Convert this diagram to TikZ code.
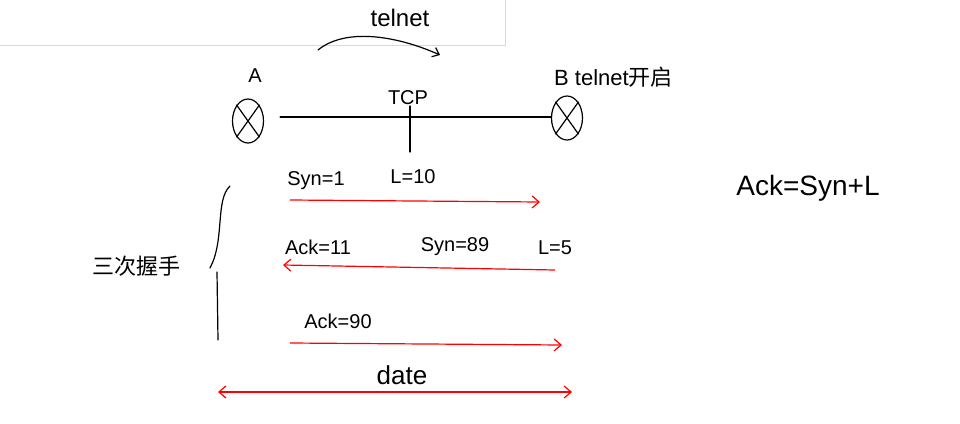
\documentclass[tikz,border=0pt]{standalone}
\usepackage{fontspec}
\setmainfont{Liberation Sans}
\newfontfamily\cjk{Noto Sans CJK SC}
\usetikzlibrary{arrows.meta,shapes.geometric}
\begin{document}
\begin{tikzpicture}[x=1pt,y=-1pt,
  ink/.style={black, line width=1.2pt, line cap=round},
  redarrow/.style={red, line width=1.2pt, -{Straight Barb[length=7pt,width=12pt]}},
  redboth/.style={red, line width=1.2pt, {Straight Barb[length=7pt,width=12pt]}-{Straight Barb[length=7pt,width=12pt]}},
  lbl/.style={font=\fontsize{20}{22}\selectfont, inner sep=1pt},
  router/.style={draw, ellipse, ink, minimum width=31pt, minimum height=44pt, inner sep=0pt},
  every node/.style={text=black}]
\useasboundingbox[fill=white] (0,0) rectangle (960,423);
% top panel edge
\draw[gray!30, line width=0.8pt] (0,45) -- (505,45) -- (505,0);
\node[lbl, font=\fontsize{24}{26}\selectfont] (telnet) at (400,18) {telnet};
\coordinate (ts) at (318,50);
\coordinate (te) at (440,55);
\draw[ink, -{Straight Barb[length=6pt,width=10pt]}] (ts) .. controls (345,28) and (395,35) .. (te);
% routers
\node[router] (A) at (248,121) {};
\draw[ink] (A.north west) -- (A.south east) (A.north east) -- (A.south west);
\node[router] (B) at (567,118) {};
\draw[ink] (B.north west) -- (B.south east) (B.north east) -- (B.south west);
\node[lbl] (Alab) at (255,76) {A};
\node[lbl, anchor=west, font=\fontsize{22}{24}\selectfont] (Blab) at (553,77) {B telnet{\cjk 开启}};
\draw[ink] (A.east) ++(16,-4) coordinate (l1) -- (B.west |- l1);
\node[lbl] (tcp) at (408,98) {TCP};
\coordinate (tk1) at (410,106);
\coordinate (tk2) at (410,152);
\draw[ink] (tk1) -- (tk2);
% handshake arrows
\coordinate (a1s) at (290,200); \coordinate (a1e) at (540,202);
\draw[redarrow] (a1s) -- (a1e);
\node[lbl] (syn1) at (316,181) {Syn=1};
\node[lbl] (l10) at (413,177) {L=10};
\coordinate (a2s) at (555,270); \coordinate (a2e) at (283,265);
\draw[redarrow] (a2s) -- (a2e);
\node[lbl] (ack11) at (318,247) {Ack=11};
\node[lbl] (syn89) at (455,247) {Syn=89};
\node[lbl] (l5) at (555,248) {L=5};
\coordinate (a3s) at (290,343); \coordinate (a3e) at (562,345);
\draw[redarrow] (a3s) -- (a3e);
\node[lbl] (ack90) at (338,321) {Ack=90};
\coordinate (a4s) at (218,392); \coordinate (a4e) at (572,392);
\draw[redboth] (a4s) -- (a4e);
\node[lbl, font=\fontsize{26}{28}\selectfont] (date) at (402,375) {date};
% brace
\coordinate (br1) at (230,186);
\coordinate (br2) at (210,268);
\draw[ink] (br1) .. controls (215,200) and (225,240) .. (br2);
\coordinate (br3) at (217,272);
\coordinate (br4) at (218,340);
\draw[ink] (br3) -- (br4);
\node[lbl, font=\cjk\fontsize{22}{24}\selectfont] (hs) at (136,266) {三次握手};
% formula
\node[lbl, font=\fontsize{28}{30}\selectfont] (formula) at (808,188) {Ack=Syn+L};
\end{tikzpicture}
\end{document}
